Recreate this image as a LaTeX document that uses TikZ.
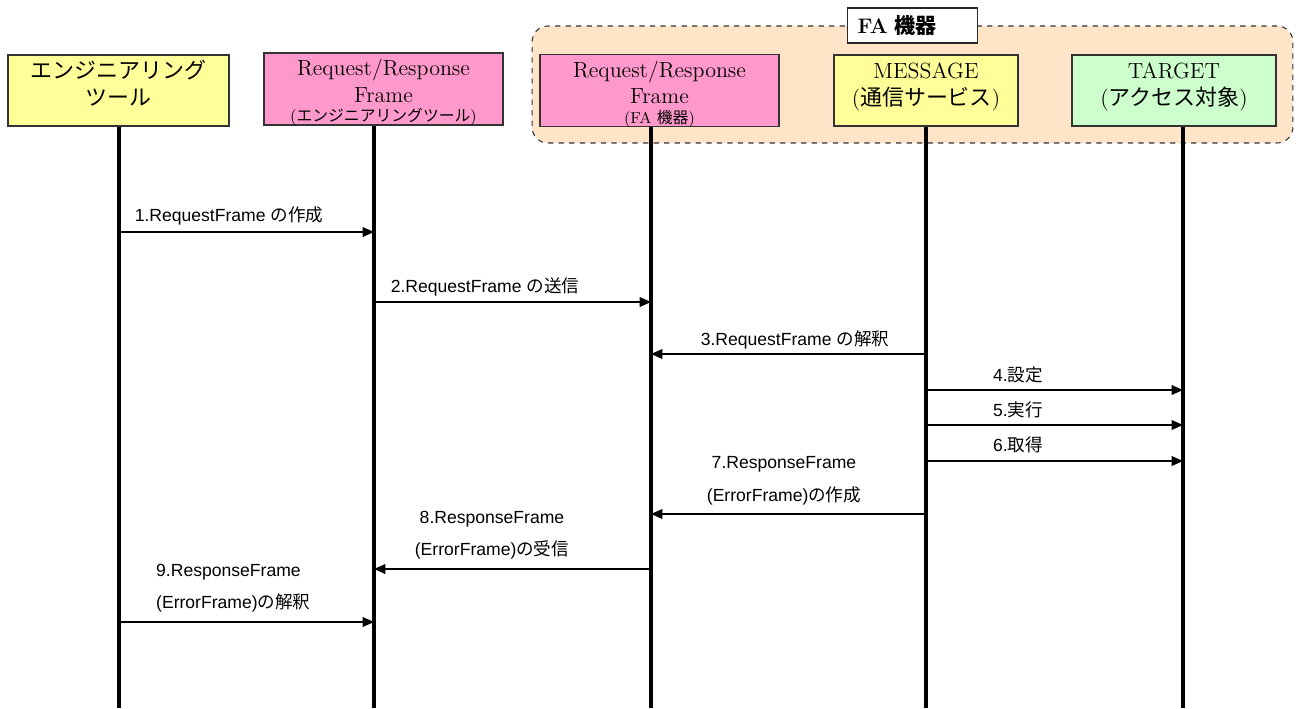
\documentclass[tikz,border=0pt]{standalone}
\usepackage{fontspec}
\setsansfont{Liberation Sans}
\newfontfamily\cjk{Noto Sans CJK JP}
\usetikzlibrary{arrows.meta}

\definecolor{toolyellow}{HTML}{FFFF99}
\definecolor{framepink}{HTML}{FF99CC}
\definecolor{targetgreen}{HTML}{CCFFCC}
\definecolor{fapeach}{HTML}{FFE4C8}

\begin{document}
\begin{tikzpicture}[x=0.02cm, y=-0.02cm,
    actor/.style={draw=black!80, line width=0.8pt, minimum height=1.42cm, inner sep=2pt, align=center, font=\fontsize{12.5}{15}\selectfont},
    twoline/.style={text height=26.4pt, text depth=9.9pt},
    threeline/.style={text height=37pt, text depth=-0.7pt},
    faregion/.style={draw=black!80, dashed, rounded corners=9pt, fill=fapeach, line width=0.6pt, minimum width=15.22cm, minimum height=2.34cm},
    fatitle/.style={draw=black!85, fill=white, line width=0.8pt, text width=2.2cm, inner xsep=0.2cm, align=left, minimum height=0.7cm, font=\bfseries\fontsize{12}{14}\selectfont},
    lifeline/.style={line width=2.3pt},
    msg/.style={-{Triangle[length=6.5pt,width=5.5pt]}, line width=0.9pt},
    msglabel/.style={font=\sffamily\fontsize{10}{18.5}\selectfont, align=center}
]
    \useasboundingbox (0,0) rectangle (1298,708);

    % FA region
    \node[faregion] (fa) at (912.5,84.5) {};
    \node[fatitle] (fatop) at (fa.north) {FA {\cjk 機器}};

    % Actors
    \node[actor, twoline, fill=toolyellow, minimum width=4.42cm] (tool) at (118.5,90.5) {{\cjk エンジニアリング}\\{\cjk ツール}};
    \node[actor, threeline, fill=framepink, minimum width=4.78cm] (reqtool) at (383.5,89) {Request/Response\\Frame\\[-4pt]{\fontsize{9}{10}\selectfont ({\cjk エンジニアリングツール})}};
    \node[actor, threeline, fill=framepink, minimum width=4.78cm] (reqfa) at (659.5,90.5) {Request/Response\\Frame\\[-4pt]{\fontsize{9}{10}\selectfont (FA {\cjk 機器})}};
    \node[actor, twoline, fill=toolyellow, minimum width=3.68cm] (message) at (926,90.5) {MESSAGE\\({\cjk 通信サービス})};
    \node[actor, twoline, fill=targetgreen, minimum width=4.08cm] (target) at (1174,90.5) {TARGET\\({\cjk アクセス対象})};

    % Lifelines
    \coordinate (l1) at (119,708);
    \coordinate (l2) at (374,708);
    \coordinate (l3) at (651,708);
    \coordinate (l4) at (926,708);
    \coordinate (l5) at (1183,708);
    \draw[lifeline] (l1 |- tool.south) -- (l1);
    \draw[lifeline] (l2 |- reqtool.south) -- (l2);
    \draw[lifeline] (l3 |- reqfa.south) -- (l3);
    \draw[lifeline] (l4 |- message.south) -- (l4);
    \draw[lifeline] (l5 |- target.south) -- (l5);

    % Message rows
    \coordinate (m1) at (0,232);
    \coordinate (m2) at (0,302);
    \coordinate (m3) at (0,354);
    \coordinate (m4) at (0,390);
    \coordinate (m5) at (0,425);
    \coordinate (m6) at (0,461);
    \coordinate (m7) at (0,514);
    \coordinate (m8) at (0,569);
    \coordinate (m9) at (0,622);

    % Arrows
    \draw[msg] (l1 |- m1) -- (l2 |- m1);
    \draw[msg] (l2 |- m2) -- (l3 |- m2);
    \draw[msg] (l4 |- m3) -- (l3 |- m3);
    \draw[msg] (l4 |- m4) -- (l5 |- m4);
    \draw[msg] (l4 |- m5) -- (l5 |- m5);
    \draw[msg] (l4 |- m6) -- (l5 |- m6);
    \draw[msg] (l4 |- m7) -- (l3 |- m7);
    \draw[msg] (l3 |- m8) -- (l2 |- m8);
    \draw[msg] (l1 |- m9) -- (l2 |- m9);

    % Labels
    \node[msglabel] (t1) at (229,216) {1.RequestFrame {\cjk の作成}};
    \node[msglabel] (t2) at (485,287) {2.RequestFrame {\cjk の送信}};
    \node[msglabel] (t3) at (795,340) {3.RequestFrame {\cjk の解釈}};
    \node[msglabel] (t4) at (1018,375) {4.{\cjk 設定}};
    \node[msglabel] (t5) at (1018,410) {5.{\cjk 実行}};
    \node[msglabel] (t6) at (1018,445) {6.{\cjk 取得}};
    \node[msglabel] (t7) at (784,481) {7.ResponseFrame\\(ErrorFrame){\cjk の作成}};
    \node[msglabel] (t8) at (492,535) {8.ResponseFrame\\(ErrorFrame){\cjk の受信}};
    \node[msglabel, align=left, anchor=west] (t9) at (150,588) {9.ResponseFrame\\(ErrorFrame){\cjk の解釈}};
\end{tikzpicture}
\end{document}
